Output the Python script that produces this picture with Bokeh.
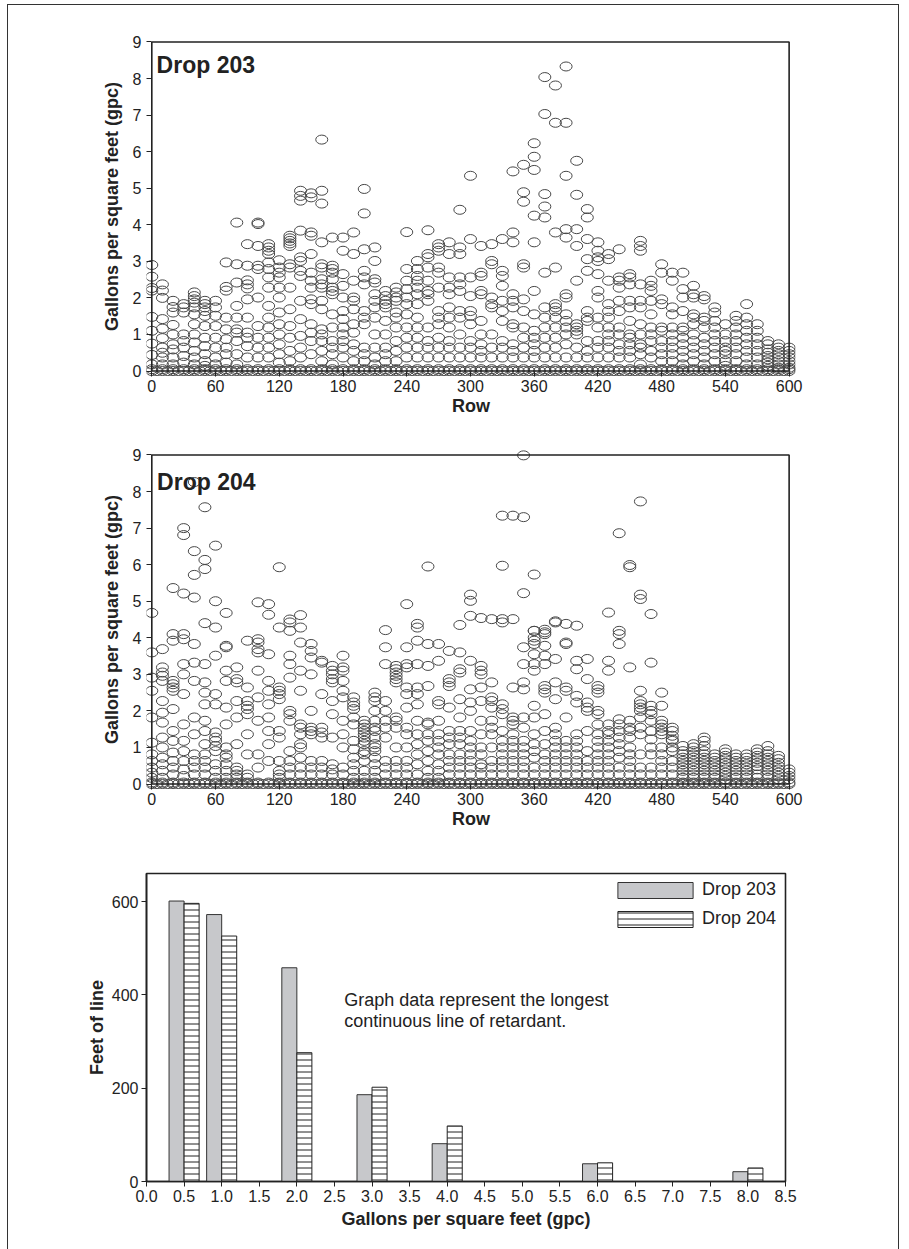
from bokeh.plotting import figure
from bokeh.layouts import column
from bokeh.models import Range1d, FixedTicker, NumeralTickFormatter, Label
from bokeh.transform import dodge
from bokeh.embed import file_html
from bokeh.resources import INLINE

FONT = "Liberation Sans"
INK = "#222222"
RING = "#474747"

# ---------------- data ----------------
rows = [0, 10, 20, 30, 40, 50, 60, 70, 80, 90, 100, 110, 120, 130, 140, 150, 160, 170, 180, 190,
        200, 210, 220, 230, 240, 250, 260, 270, 280, 290, 300, 310, 320, 330, 340, 350, 360, 370,
        380, 390, 400, 410, 420, 430, 440, 450, 460, 470, 480, 490, 500, 510, 520, 530, 540, 550,
        560, 570, 580, 590, 600]

zero_rows = [5, 15, 25, 35, 45, 55, 65, 75, 85, 95, 105, 115, 125, 135, 145, 155, 165, 175, 185,
             195, 205, 215, 225, 235, 245, 255, 265, 275, 285, 295, 305, 315, 325, 335, 345, 355,
             365, 375, 385, 395, 405, 415, 425, 435, 445, 455, 465, 475, 485, 495, 505, 515, 525,
             535, 545, 555, 565, 575, 585, 595]

gpc203 = [
    [2.9, 2.58, 2.27, 2.2, 1.48, 1.1, 0.75, 0.44, 0.18, 0.05, 0],
    [2.37, 2.2, 2.0, 1.42, 1.16, 0.9, 0.64, 0.5, 0.37, 0.18, 0.05, 0],
    [1.92, 1.75, 1.6, 1.26, 1.0, 0.73, 0.59, 0.37, 0.18, 0.05, 0],
    [1.83, 1.74, 1.6, 1.0, 0.82, 0.64, 0.41, 0.23, 0.05, 0],
    [2.15, 2.05, 1.96, 1.87, 1.74, 1.55, 1.28, 1.0, 0.78, 0.55, 0.37, 0.18, 0.05, 0],
    [1.92, 1.83, 1.74, 1.64, 1.51, 1.23, 0.91, 0.68, 0.46, 0.27, 0.14, 0.05, 0],
    [1.92, 1.74, 1.51, 1.23, 0.91, 0.64, 0.37, 0.18, 0.05, 0],
    [2.97, 2.3, 2.2, 1.46, 1.14, 0.87, 0.64, 0.46, 0.23, 0.05, 0],
    [4.06, 2.92, 2.42, 1.78, 1.46, 1.14, 1.05, 0.82, 0.46, 0.18, 0.05, 0],
    [3.47, 2.88, 2.48, 2.37, 2.26, 1.96, 1.46, 1.05, 0.91, 0.68, 0.37, 0.05, 0],
    [4.06, 4.02, 3.42, 2.88, 2.79, 2.01, 1.23, 0.91, 0.64, 0.37, 0.05, 0],
    [3.47, 3.38, 3.29, 3.2, 2.97, 2.79, 2.56, 2.28, 1.78, 1.46, 1.19, 0.91, 0.64, 0.37, 0.05, 0],
    [3.03, 2.83, 2.69, 2.56, 2.28, 2.01, 1.6, 1.28, 1.0, 0.73, 0.46, 0.23, 0.05, 0],
    [3.7, 3.63, 3.56, 3.49, 3.42, 2.92, 2.83, 2.28, 1.69, 1.23, 0.91, 0.55, 0.27, 0.05, 0],
    [4.93, 4.79, 4.66, 3.84, 3.11, 3.01, 2.74, 2.6, 1.92, 1.42, 0.96, 0.64, 0.37, 0.05, 0],
    [4.86, 4.75, 3.79, 3.7, 3.2, 2.69, 2.47, 2.28, 1.96, 1.83, 1.28, 1.05, 0.82, 0.46, 0.05, 0],
    [6.33, 4.93, 4.58, 3.52, 2.92, 2.83, 2.51, 2.37, 2.28, 1.92, 1.69, 1.14, 1.0, 0.82, 0.55, 0.27, 0.05, 0],
    [3.65, 2.88, 2.79, 2.69, 2.51, 2.28, 2.19, 2.1, 1.55, 1.19, 0.82, 0.64, 0.46, 0.18, 0.05, 0],
    [3.65, 3.29, 2.65, 2.33, 2.01, 1.64, 1.42, 1.19, 1.0, 0.82, 0.64, 0.37, 0.05, 0],
    [3.79, 3.2, 2.47, 2.01, 1.92, 1.69, 1.28, 1.05, 0.73, 0.55, 0.27, 0.05, 0],
    [4.98, 4.31, 3.33, 2.74, 2.56, 2.37, 1.64, 1.46, 1.28, 0.64, 0.46, 0.27, 0.05, 0],
    [3.38, 3.01, 2.51, 2.42, 2.1, 1.92, 1.74, 1.46, 1.0, 0.64, 0.37, 0.18, 0.05, 0],
    [2.19, 2.05, 1.92, 1.83, 1.74, 1.37, 1.0, 0.64, 0.46, 0.27, 0.05, 0],
    [2.28, 2.15, 2.01, 1.92, 1.6, 1.46, 1.19, 0.82, 0.55, 0.27, 0.05, 0],
    [3.8, 2.79, 2.47, 2.24, 2.01, 1.83, 1.55, 1.19, 0.91, 0.64, 0.37, 0.05, 0],
    [3.01, 2.79, 2.6, 2.47, 2.28, 2.1, 1.83, 1.46, 1.19, 0.91, 0.64, 0.37, 0.05, 0],
    [3.85, 3.2, 3.11, 2.83, 2.47, 2.19, 2.1, 1.92, 1.19, 0.82, 0.64, 0.37, 0.05, 0],
    [3.47, 3.38, 3.29, 2.83, 2.69, 2.28, 1.64, 1.46, 1.28, 0.91, 0.64, 0.37, 0.05, 0],
    [3.52, 3.2, 2.56, 2.28, 2.1, 1.74, 1.46, 1.19, 0.82, 0.64, 0.37, 0.05, 0],
    [4.41, 3.38, 3.2, 2.56, 2.37, 2.19, 1.64, 1.46, 1.0, 0.64, 0.37, 0.05, 0],
    [5.34, 3.61, 2.56, 2.05, 1.64, 1.51, 1.28, 0.82, 0.64, 0.37, 0.05, 0],
    [3.42, 2.69, 2.6, 2.19, 2.1, 1.37, 1.0, 0.73, 0.55, 0.37, 0.05, 0],
    [3.47, 3.01, 2.92, 2.01, 1.83, 1.74, 1.0, 0.64, 0.37, 0.05, 0],
    [3.61, 2.74, 2.6, 2.33, 1.92, 1.64, 1.37, 0.82, 0.64, 0.37, 0.05, 0],
    [5.46, 3.79, 3.52, 2.1, 1.92, 1.74, 1.28, 1.19, 0.73, 0.55, 0.37, 0.05, 0],
    [5.64, 4.89, 4.63, 2.92, 2.83, 1.96, 1.64, 1.19, 0.91, 0.64, 0.37, 0.05, 0],
    [6.23, 5.86, 5.5, 4.25, 3.52, 2.19, 1.55, 1.1, 0.91, 0.73, 0.55, 0.37, 0.05, 0],
    [8.04, 7.03, 4.84, 4.5, 4.2, 2.69, 1.74, 1.46, 1.19, 0.91, 0.64, 0.37, 0.05, 0],
    [7.81, 6.79, 3.79, 2.83, 1.83, 1.74, 1.64, 1.46, 1.19, 0.91, 0.64, 0.37, 0.05, 0],
    [8.33, 6.79, 5.34, 3.88, 3.65, 2.1, 2.01, 1.55, 1.37, 1.19, 1.0, 0.73, 0.37, 0.05, 0],
    [5.75, 4.82, 3.88, 3.42, 2.47, 1.28, 1.19, 1.1, 1.0, 0.64, 0.37, 0.05, 0],
    [4.43, 4.2, 3.61, 3.06, 2.74, 1.64, 1.46, 1.37, 0.82, 0.55, 0.37, 0.05, 0],
    [3.52, 3.29, 3.11, 3.01, 2.65, 2.19, 2.01, 1.46, 1.19, 0.82, 0.64, 0.37, 0.05, 0],
    [3.2, 3.06, 2.47, 1.83, 1.64, 1.46, 1.19, 1.0, 0.82, 0.64, 0.37, 0.05, 0],
    [3.33, 2.56, 2.47, 2.28, 1.92, 1.64, 1.19, 1.0, 0.73, 0.55, 0.37, 0.05, 0],
    [2.65, 2.56, 2.37, 1.92, 1.74, 1.37, 1.0, 0.91, 0.73, 0.55, 0.37, 0.05, 0],
    [3.56, 3.42, 3.29, 2.37, 1.92, 1.74, 1.28, 1.0, 0.73, 0.64, 0.46, 0.18, 0.05, 0],
    [2.47, 2.33, 2.19, 1.92, 1.55, 1.19, 1.0, 0.82, 0.55, 0.37, 0.05, 0],
    [2.92, 2.69, 1.96, 1.83, 1.19, 1.1, 0.82, 0.64, 0.46, 0.27, 0.05, 0],
    [2.69, 2.47, 1.74, 1.55, 1.19, 1.0, 0.82, 0.64, 0.46, 0.27, 0.05, 0],
    [2.69, 2.24, 2.01, 1.64, 1.19, 1.1, 0.91, 0.73, 0.55, 0.37, 0.18, 0.05, 0],
    [2.33, 2.1, 2.01, 1.55, 1.46, 1.28, 1.0, 0.82, 0.64, 0.46, 0.27, 0.05, 0],
    [2.05, 1.96, 1.46, 1.37, 1.19, 0.91, 0.73, 0.55, 0.37, 0.18, 0.05, 0],
    [1.74, 1.6, 1.37, 1.19, 1.0, 0.82, 0.64, 0.46, 0.27, 0.05, 0],
    [1.28, 1.0, 0.82, 0.64, 0.55, 0.46, 0.27, 0.14, 0.05, 0],
    [1.51, 1.37, 1.19, 1.0, 0.82, 0.64, 0.46, 0.27, 0.05, 0],
    [1.83, 1.46, 1.28, 1.1, 0.91, 0.73, 0.55, 0.37, 0.18, 0.05, 0],
    [1.28, 1.1, 0.91, 0.73, 0.55, 0.37, 0.18, 0.05, 0],
    [0.82, 0.73, 0.59, 0.5, 0.41, 0.32, 0.23, 0.14, 0.05, 0],
    [0.73, 0.64, 0.55, 0.46, 0.37, 0.27, 0.18, 0.09, 0.05, 0],
    [0.64, 0.55, 0.46, 0.37, 0.27, 0.18, 0.09, 0.05, 0],
]

gpc204 = [
    [4.68, 3.6, 2.91, 2.55, 1.82, 1.13, 0.81, 0.63, 0.45, 0.31, 0.17, 0.04, 0],
    [3.69, 3.19, 3.05, 2.96, 2.82, 2.27, 1.95, 1.68, 1.27, 1.0, 0.72, 0.54, 0.36, 0.17, 0.04, 0],
    [5.36, 4.1, 3.92, 2.82, 2.73, 2.64, 2.55, 2.05, 1.45, 1.18, 0.86, 0.63, 0.45, 0.26, 0.04, 0],
    [7.0, 6.81, 5.21, 4.1, 3.96, 3.28, 3.0, 2.46, 1.63, 1.18, 0.9, 0.63, 0.4, 0.22, 0.04, 0],
    [8.26, 6.37, 5.72, 5.1, 3.83, 3.32, 2.82, 1.82, 1.36, 0.81, 0.63, 0.45, 0.26, 0.04, 0],
    [7.57, 6.13, 5.88, 4.4, 3.28, 2.78, 2.5, 2.18, 1.73, 1.45, 1.09, 0.81, 0.63, 0.45, 0.26, 0.04, 0],
    [6.52, 5.0, 4.28, 3.51, 2.46, 2.18, 1.41, 1.27, 1.18, 1.04, 0.9, 0.54, 0.36, 0.17, 0.04, 0],
    [4.68, 3.78, 3.74, 3.1, 2.82, 2.09, 1.63, 1.0, 0.81, 0.72, 0.54, 0.36, 0.17, 0.04, 0],
    [3.19, 2.87, 2.78, 2.27, 1.82, 1.09, 0.45, 0.36, 0.26, 0.17, 0.04, 0],
    [3.92, 2.64, 2.27, 2.14, 2.05, 1.91, 1.36, 0.81, 0.26, 0.17, 0.04, 0],
    [4.97, 3.96, 3.87, 3.69, 3.6, 3.1, 2.37, 1.73, 0.81, 0.45, 0.04, 0],
    [4.92, 4.63, 3.55, 2.82, 2.55, 2.18, 1.82, 1.45, 1.09, 0.63, 0.04, 0],
    [5.93, 4.28, 2.64, 2.55, 2.46, 2.32, 1.45, 1.27, 0.63, 0.36, 0.26, 0.17, 0.04, 0],
    [4.5, 4.42, 4.19, 3.51, 3.28, 2.91, 2.0, 1.91, 1.73, 0.9, 0.63, 0.45, 0.26, 0.04, 0],
    [4.62, 4.28, 3.87, 3.1, 2.55, 1.63, 1.54, 1.36, 1.09, 1.0, 0.72, 0.45, 0.26, 0.04, 0],
    [3.83, 3.64, 3.46, 3.0, 2.0, 1.54, 1.45, 1.36, 0.63, 0.45, 0.26, 0.04, 0],
    [3.37, 3.32, 2.46, 1.54, 1.41, 1.27, 0.63, 0.45, 0.26, 0.04, 0],
    [3.23, 3.1, 3.0, 2.87, 2.78, 2.27, 1.91, 1.27, 0.54, 0.4, 0.26, 0.04, 0],
    [3.51, 3.19, 3.1, 2.82, 2.55, 2.37, 1.73, 1.36, 1.0, 0.45, 0.26, 0.04, 0],
    [2.37, 2.23, 2.14, 2.05, 1.82, 1.63, 1.18, 0.95, 0.72, 0.54, 0.36, 0.17, 0.04, 0],
    [1.73, 1.63, 1.54, 1.45, 1.36, 1.27, 1.18, 1.09, 0.9, 0.81, 0.63, 0.36, 0.17, 0.04, 0],
    [2.5, 2.37, 2.27, 2.0, 1.73, 1.54, 1.45, 1.27, 1.09, 1.0, 0.9, 0.72, 0.54, 0.36, 0.17, 0.04, 0],
    [4.21, 3.74, 3.28, 2.27, 2.0, 1.73, 1.54, 1.27, 0.63, 0.45, 0.26, 0.04, 0],
    [3.23, 3.14, 3.05, 2.96, 2.87, 2.78, 1.82, 1.73, 1.54, 1.0, 0.63, 0.45, 0.26, 0.04, 0],
    [4.92, 3.74, 3.28, 3.19, 2.64, 2.46, 2.09, 1.54, 1.36, 1.0, 0.63, 0.45, 0.26, 0.04, 0],
    [4.38, 4.28, 3.92, 3.28, 2.64, 2.46, 2.18, 1.73, 1.36, 1.09, 0.81, 0.54, 0.26, 0.04, 0],
    [5.95, 3.83, 3.23, 2.68, 1.68, 1.63, 1.36, 1.18, 0.9, 0.63, 0.36, 0.17, 0.04, 0],
    [3.83, 3.37, 2.27, 2.18, 1.73, 1.36, 1.18, 1.0, 0.81, 0.54, 0.36, 0.17, 0.04, 0],
    [3.64, 2.87, 2.78, 2.68, 2.09, 1.45, 1.27, 1.09, 0.81, 0.63, 0.45, 0.26, 0.04, 0],
    [4.35, 3.6, 3.14, 3.05, 2.32, 1.82, 1.45, 1.27, 1.09, 0.81, 0.63, 0.45, 0.26, 0.04, 0],
    [5.18, 5.01, 4.6, 3.37, 2.59, 2.23, 2.0, 1.45, 1.18, 1.0, 0.81, 0.63, 0.45, 0.26, 0.04, 0],
    [4.54, 3.23, 3.1, 3.0, 2.64, 2.27, 1.73, 1.36, 1.0, 0.81, 0.54, 0.45, 0.26, 0.04, 0],
    [4.51, 2.78, 2.37, 2.27, 2.09, 1.73, 1.54, 1.36, 1.0, 0.63, 0.45, 0.26, 0.04, 0],
    [7.34, 5.97, 4.51, 4.42, 2.18, 2.05, 1.91, 1.45, 1.18, 1.0, 0.81, 0.63, 0.45, 0.26, 0.04, 0],
    [7.34, 4.51, 2.64, 1.82, 1.73, 1.63, 1.36, 1.18, 1.0, 0.81, 0.63, 0.45, 0.26, 0.04, 0],
    [8.99, 7.3, 5.22, 3.74, 3.28, 2.78, 2.59, 1.82, 1.54, 1.18, 1.0, 0.81, 0.63, 0.45, 0.26, 0.04, 0],
    [5.73, 4.19, 4.19, 4.01, 3.92, 3.83, 3.55, 3.28, 3.1, 2.14, 1.82, 1.36, 1.09, 0.9, 0.72, 0.45, 0.26, 0.04, 0],
    [4.22, 4.15, 4.1, 3.78, 3.51, 3.28, 2.68, 2.59, 2.5, 1.91, 1.45, 1.09, 0.81, 0.63, 0.45, 0.26, 0.04, 0],
    [4.45, 4.42, 3.42, 2.78, 2.32, 1.54, 1.36, 1.18, 1.0, 0.81, 0.63, 0.45, 0.26, 0.04, 0],
    [4.38, 3.87, 3.83, 2.64, 2.55, 1.82, 1.18, 1.0, 0.81, 0.63, 0.45, 0.26, 0.04, 0],
    [4.33, 3.37, 3.14, 2.41, 2.23, 1.36, 1.18, 1.0, 0.81, 0.63, 0.45, 0.26, 0.04, 0],
    [3.42, 2.87, 2.23, 2.09, 2.0, 1.45, 0.9, 0.63, 0.45, 0.26, 0.04, 0],
    [2.68, 2.59, 2.5, 2.0, 1.91, 1.63, 1.36, 1.18, 1.0, 0.81, 0.63, 0.45, 0.26, 0.04, 0],
    [4.69, 3.37, 3.1, 1.63, 1.45, 1.36, 1.18, 1.0, 0.81, 0.63, 0.45, 0.26, 0.04, 0],
    [6.86, 4.19, 4.1, 3.83, 1.77, 1.63, 1.45, 1.27, 1.09, 0.9, 0.72, 0.45, 0.26, 0.04, 0],
    [5.99, 5.93, 3.19, 1.73, 1.54, 1.45, 1.27, 1.0, 0.81, 0.63, 0.45, 0.26, 0.04, 0],
    [7.73, 5.18, 5.06, 2.55, 2.27, 2.18, 2.09, 2.0, 1.82, 1.54, 1.36, 0.81, 0.45, 0.26, 0.04, 0],
    [4.65, 3.32, 2.14, 2.0, 1.91, 1.73, 1.45, 1.22, 1.0, 0.81, 0.45, 0.26, 0.04, 0],
    [2.5, 2.14, 1.73, 1.63, 1.54, 1.45, 1.36, 1.0, 0.81, 0.63, 0.45, 0.26, 0.04, 0],
    [1.54, 1.45, 1.32, 1.22, 1.18, 1.0, 0.9, 0.63, 0.45, 0.26, 0.04, 0],
    [1.04, 0.9, 0.81, 0.72, 0.63, 0.54, 0.45, 0.36, 0.26, 0.17, 0.04, 0],
    [1.09, 1.0, 0.9, 0.81, 0.72, 0.63, 0.54, 0.45, 0.36, 0.26, 0.17, 0.04, 0],
    [1.27, 1.18, 1.04, 0.9, 0.81, 0.72, 0.63, 0.54, 0.45, 0.36, 0.26, 0.17, 0.04, 0],
    [0.81, 0.72, 0.63, 0.54, 0.45, 0.36, 0.26, 0.17, 0.04, 0],
    [0.95, 0.86, 0.77, 0.68, 0.58, 0.49, 0.4, 0.31, 0.22, 0.13, 0.04, 0],
    [0.81, 0.72, 0.63, 0.54, 0.45, 0.36, 0.26, 0.17, 0.04, 0],
    [0.81, 0.72, 0.63, 0.54, 0.45, 0.36, 0.26, 0.17, 0.04, 0],
    [0.95, 0.86, 0.77, 0.68, 0.58, 0.49, 0.4, 0.26, 0.17, 0.04, 0],
    [1.04, 0.9, 0.81, 0.72, 0.63, 0.54, 0.45, 0.36, 0.26, 0.17, 0.04, 0],
    [0.77, 0.68, 0.58, 0.49, 0.4, 0.31, 0.22, 0.13, 0.04, 0],
    [0.4, 0.31, 0.22, 0.13, 0.04, 0],
]

row_ticks = [0, 60, 120, 180, 240, 300, 360, 420, 480, 540, 600]
gpc_ticks = [0, 1, 2, 3, 4, 5, 6, 7, 8, 9]
ROW_MAX = 600
GPC_MAX = 9

gpc_bins = [0.5, 1.0, 2.0, 3.0, 4.0, 6.0, 8.0]
feet203 = [601, 572, 458, 186, 81, 38, 21]
feet204 = [596, 526, 276, 202, 119, 40, 29]
bin_ticks = [0.0, 0.5, 1.0, 1.5, 2.0, 2.5, 3.0, 3.5, 4.0, 4.5, 5.0, 5.5, 6.0, 6.5, 7.0, 7.5, 8.0, 8.5]
feet_ticks = [0, 200, 400, 600]

FIG_W = 890


def style_axes(p):
    for ax in (p.xaxis[0], p.yaxis[0]):
        ax.major_label_text_font = FONT
        ax.major_label_text_font_size = "16px"
        ax.major_label_text_color = INK
        ax.axis_label_text_font = FONT
        ax.axis_label_text_font_style = "bold"
        ax.axis_label_text_font_size = "18px"
        ax.axis_label_text_color = INK
        ax.major_tick_line_color = INK
        ax.major_tick_line_width = 1
        ax.minor_tick_line_color = None


def scatter_panel(title, vals, left, top, title_x, title_y):
    p = figure(width=FIG_W, height=top + 340 + 45, frame_width=649, frame_height=340,
               min_border_left=left, min_border_right=FIG_W - left - 649,
               min_border_top=top, min_border_bottom=45,
               x_range=Range1d(-5, 606), y_range=Range1d(-0.15, 9.15),
               output_backend="svg", toolbar_location=None)
    p.grid.visible = False
    p.outline_line_color = None
    p.background_fill_color = "white"
    p.border_fill_color = "white"
    style_axes(p)
    p.xaxis.ticker = FixedTicker(ticks=row_ticks)
    p.yaxis.ticker = FixedTicker(ticks=gpc_ticks)
    p.xaxis.axis_line_color = None
    p.yaxis.axis_line_color = None
    p.xaxis.major_tick_in = 5
    p.xaxis.major_tick_out = 0
    p.yaxis.major_tick_in = 5
    p.yaxis.major_tick_out = 0
    p.xaxis.major_label_standoff = 3
    p.yaxis.major_label_standoff = 5
    p.xaxis.axis_label = "Row"
    p.xaxis.axis_label_standoff = 1
    p.yaxis.axis_label = "Gallons per square feet (gpc)"
    p.yaxis.axis_label_standoff = 8

    xs, ys = [], []
    for r, col in zip(rows, vals):
        for v in col:
            xs.append(r)
            ys.append(v)
    for r in zero_rows:
        xs.append(r)
        ys.append(0)
    p.ellipse(x=xs, y=ys, width=12, height=9, width_units="screen", height_units="screen",
              fill_color=None, line_color=RING, line_width=1.0)
    # plot box
    p.quad(left=[0], right=[ROW_MAX], bottom=[0], top=[GPC_MAX], fill_color=None,
           line_color=INK, line_width=1.6)
    p.add_layout(Label(x=title_x, y=title_y, text=title, text_font=FONT,
                       text_font_style="bold", text_font_size="23px", text_color=INK,
                       text_baseline="alphabetic"))
    return p


p1 = scatter_panel("Drop 203", gpc203, 134, 31, 4.5, 8.36)
p2 = scatter_panel("Drop 204", gpc204, 136, 28, 5, 8.27)

# ---------------- bar chart ----------------
p3 = figure(width=FIG_W, height=39 + 308 + 75, frame_width=639, frame_height=308,
            min_border_left=138, min_border_right=FIG_W - 138 - 639,
            min_border_top=39, min_border_bottom=75,
            x_range=Range1d(0, 8.5), y_range=Range1d(0, 660),
            output_backend="svg", toolbar_location=None)
p3.grid.visible = False
p3.outline_line_color = INK
p3.outline_line_width = 1.6
style_axes(p3)
p3.xaxis.ticker = FixedTicker(ticks=bin_ticks)
p3.xaxis.formatter = NumeralTickFormatter(format="0.0")
p3.yaxis.ticker = FixedTicker(ticks=feet_ticks)
for ax in (p3.xaxis[0], p3.yaxis[0]):
    ax.axis_line_color = INK
    ax.axis_line_width = 1.6
    ax.major_tick_in = 0
    ax.major_tick_out = 5
    ax.major_label_standoff = 3
p3.xaxis.axis_label = "Gallons per square feet (gpc)"
p3.xaxis.axis_label_standoff = 4
p3.yaxis.axis_label = "Feet of line"
p3.yaxis.axis_label_standoff = 2

src = dict(gpc=gpc_bins, f203=feet203, f204=feet204)
p3.vbar(x=dodge("gpc", -0.1, range=p3.x_range), top="f203", width=0.2, source=src,
        fill_color="#c7c8cb", line_color="#333333", line_width=1, legend_label="Drop 203")
p3.vbar(x=dodge("gpc", 0.1, range=p3.x_range), top="f204", width=0.2, source=src,
        fill_color="white", line_color="#222222", line_width=1,
        hatch_pattern="horizontal_line", hatch_color="#222222", hatch_scale=6,
        hatch_weight=1, legend_label="Drop 204")

lg = p3.legend[0]
lg.location = (462, 252)
lg.margin = 0
lg.padding = 0
lg.border_line_color = None
lg.background_fill_alpha = 0
lg.glyph_width = 94
lg.glyph_height = 20
lg.label_height = 20
lg.label_standoff = 0
lg.spacing = 8
lg.label_text_font = FONT
lg.label_text_font_size = "18px"
lg.label_text_color = INK

p3.add_layout(Label(x=2.63, y=390, text="Graph data represent the longest", text_font=FONT,
                    text_font_size="18px", text_color=INK, text_baseline="alphabetic"))
p3.add_layout(Label(x=2.63, y=345, text="continuous line of retardant.", text_font=FONT,
                    text_font_size="18px", text_color=INK, text_baseline="alphabetic"))

layout = column(p1, p2, p3, spacing=0, margin=(4, 0, 0, 7),
                styles={"border": "1px solid #333333"})

open("out.html", "w").write(file_html(layout, INLINE))
